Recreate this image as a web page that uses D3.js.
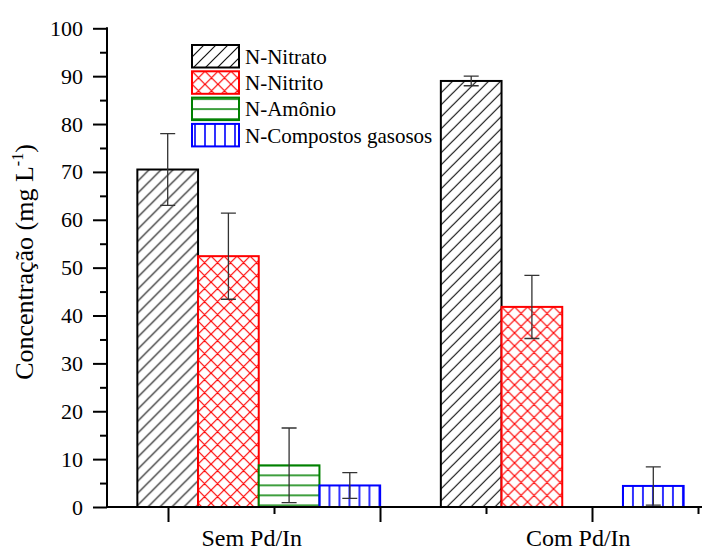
<!DOCTYPE html>
<html>
<head>
<meta charset="utf-8">
<script src="https://cdn.jsdelivr.net/npm/d3@7"></script>
<style>
  html, body { margin: 0; padding: 0; background: #fff; }
  svg { display: block; }
  svg text { font-family: "Liberation Serif", "Times New Roman", Times, "DejaVu Serif", serif !important; fill: #000; }
</style>
</head>
<body>
<div id="chart"></div>
<script>
// ---------- data ----------
const groups = ["Sem Pd/In", "Com Pd/In"];
const seriesNames = ["N-Nitrato", "N-Nitrito", "N-Amônio", "N-Compostos gasosos"];
const nitrato    = [70.5, 89.0];
const nitratoErr = [7.5, 1.0];
const nitrito    = [52.4, 41.8];
const nitritoErr = [9.0, 6.6];
const amonio     = [8.7, null];
const amonioErr  = [7.8, null];
const gasosos    = [4.5, 4.4];
const gasososErr = [2.7, 4.0];
const yTicks = [0, 10, 20, 30, 40, 50, 60, 70, 80, 90, 100];
const yMinorTicks = [5, 15, 25, 35, 45, 55, 65, 75, 85, 95];
const xMajorTicks = [1, 2, 3];
const xMinorTicks = [1.5, 2.5, 3.5];

const values = [nitrato, nitrito, amonio, gasosos];
const errors = [nitratoErr, nitritoErr, amonioErr, gasososErr];
const colors = ["#000000", "#ff0000", "#008000", "#0000ff"];
const hatchColors = ["#111111", "#ff0000", "#008000", "#0000ff"];
const FONT = '"Liberation Serif", "Times New Roman", Times, "DejaVu Serif", serif';

// ---------- layout ----------
const W = 702, H = 550;
const mLeft = 107, mBottom = 507, mTop = 28.3;
const svg = d3.select("#chart").append("svg").attr("width", W).attr("height", H)
  .attr("font-family", FONT);
const defs = svg.append("defs");

const y = d3.scaleLinear().domain([0, 100]).range([mBottom, mTop]);
const x0 = d3.scaleBand().domain(groups).range([mLeft, 714]).paddingInner(0.2).paddingOuter(0.1);
const x1 = d3.scaleBand().domain(d3.range(seriesNames.length)).range([0, x0.bandwidth()]).padding(0);
const xt = d3.scaleLinear().domain([1, 3]).range([168, 592]);

// pattern factory
function makePattern(id, s, px, py) {
  const sizes = [12, 13, 10, 10];
  const w = sizes[s];
  const p = defs.append("pattern").attr("id", id)
    .attr("patternUnits", "userSpaceOnUse")
    .attr("x", px).attr("y", py).attr("width", w).attr("height", w);
  let d;
  if (s === 0) {
    d = `M0,${w} L${w},0 M${-w/4},${w/4} L${w/4},${-w/4} M${3*w/4},${5*w/4} L${5*w/4},${3*w/4}`;
  } else if (s === 1) {
    d = `M0,${w} L${w},0 M${-w/4},${w/4} L${w/4},${-w/4} M${3*w/4},${5*w/4} L${5*w/4},${3*w/4}` +
        ` M0,0 L${w},${w} M${-w/4},${3*w/4} L${w/4},${5*w/4} M${3*w/4},${-w/4} L${5*w/4},${w/4}`;
  } else if (s === 2) {
    d = `M0,0 L${w},0 M0,${w} L${w},${w}`;
  } else {
    d = `M0,0 L0,${w} M${w},0 L${w},${w}`;
  }
  p.append("path").attr("d", d).attr("fill", "none")
    .attr("stroke", hatchColors[s]).attr("stroke-width", s >= 2 ? 1.6 : 1.2);
  return `url(#${id})`;
}

// ---------- bars ----------
const gBars = svg.append("g");
const gErr = svg.append("g");
groups.forEach((grp, gi) => {
  values.forEach((arr, s) => {
    const v = arr[gi];
    if (v === null || v === undefined) return;
    const bx = x0(grp) + x1(s);
    const bw = x1.bandwidth();
    const by = y(v);
    const fill = makePattern(`p-${gi}-${s}`, s, bx, by);
    gBars.append("rect")
      .attr("x", bx).attr("y", by).attr("width", bw).attr("height", y(0) - by)
      .attr("fill", "#fff");
    gBars.append("rect")
      .attr("x", bx).attr("y", by).attr("width", bw).attr("height", y(0) - by)
      .attr("fill", fill).attr("stroke", colors[s]).attr("stroke-width", 2);
    const e = errors[s][gi];
    if (e !== null && e !== undefined) {
      const cx = bx + bw / 2;
      const cap = 7.5;
      const eTop = y(v + e), eBot = y(Math.max(0, v - e));
      gErr.append("path")
        .attr("d", `M${cx},${eTop} L${cx},${eBot} M${cx - cap},${eTop} L${cx + cap},${eTop} M${cx - cap},${eBot} L${cx + cap},${eBot}`)
        .attr("fill", "none").attr("stroke", "#333").attr("stroke-width", 1.3);
    }
  });
});

// ---------- axes ----------
const fontTick = 22;
const yAxis = svg.append("g").attr("transform", `translate(${mLeft},0)`)
  .call(d3.axisLeft(y).tickValues(yTicks).tickSize(14).tickPadding(10).tickFormat(d3.format("d")));
yAxis.attr("font-family", FONT).attr("font-size", fontTick);
yAxis.select(".domain").remove();
yAxis.selectAll(".tick line").attr("stroke", "#000").attr("stroke-width", 2);
yAxis.selectAll(".tick text").style("font-family", FONT)
  .style("font-size", fontTick + "px").attr("fill", "#000");
const yMinor = svg.append("g").attr("transform", `translate(${mLeft},0)`)
  .call(d3.axisLeft(y).tickValues(yMinorTicks).tickSize(7).tickFormat(""));
yMinor.select(".domain").remove();
yMinor.selectAll(".tick line").attr("stroke", "#000").attr("stroke-width", 2);

const xMajor = svg.append("g").attr("transform", `translate(0,${mBottom})`)
  .call(d3.axisBottom(xt).tickValues(xMajorTicks).tickSize(15).tickFormat(""));
xMajor.select(".domain").remove();
xMajor.selectAll(".tick line").attr("stroke", "#000").attr("stroke-width", 2);
const xMinor = svg.append("g").attr("transform", `translate(0,${mBottom})`)
  .call(d3.axisBottom(xt).tickValues(xMinorTicks).tickSize(7).tickFormat(""));
xMinor.select(".domain").remove();
xMinor.selectAll(".tick line").attr("stroke", "#000").attr("stroke-width", 2);

// axis lines
svg.append("line").attr("x1", mLeft).attr("x2", mLeft).attr("y1", mTop - 1).attr("y2", mBottom + 1)
  .attr("stroke", "#000").attr("stroke-width", 2);
svg.append("line").attr("x1", mLeft - 1).attr("x2", W).attr("y1", mBottom).attr("y2", mBottom)
  .attr("stroke", "#000").attr("stroke-width", 2);

// group labels
const labelShift = [-7, 16];
groups.forEach((grp, gi) => {
  svg.append("text")
    .attr("x", x0(grp) + x0.bandwidth() / 2 + labelShift[gi]).attr("y", 546)
    .attr("text-anchor", "middle").style("font-family", FONT).style("font-size", "24px").text(grp);
});

// y axis title
const yTitle = svg.append("text")
  .attr("transform", "translate(33,262) rotate(-90)")
  .attr("text-anchor", "middle").style("font-family", FONT).style("font-size", "26px");
yTitle.append("tspan").text("Concentração (mg L");
yTitle.append("tspan").attr("dy", -10).style("font-size", "16px").text("-1");
yTitle.append("tspan").attr("dy", 10).text(")");

// ---------- legend ----------
const lg = svg.append("g");
const lx = 192, ly0 = 45, lstep = 26.3, lw = 47, lh = 22.5;
seriesNames.forEach((name, s) => {
  const yy = ly0 + s * lstep;
  const fill = makePattern(`leg-${s}`, s, lx + (s === 3 ? 3 : 0), yy + (s === 2 ? 1.5 : 0));
  lg.append("rect").attr("x", lx).attr("y", yy).attr("width", lw).attr("height", lh).attr("fill", "#fff");
  lg.append("rect").attr("x", lx).attr("y", yy).attr("width", lw).attr("height", lh)
    .attr("fill", fill).attr("stroke", colors[s]).attr("stroke-width", 2);
  lg.append("text").attr("x", lx + lw + 6).attr("y", yy + lh / 2 + 7.5)
    .style("font-family", FONT).style("font-size", "21px").text(name);
});
</script>
</body>
</html>
